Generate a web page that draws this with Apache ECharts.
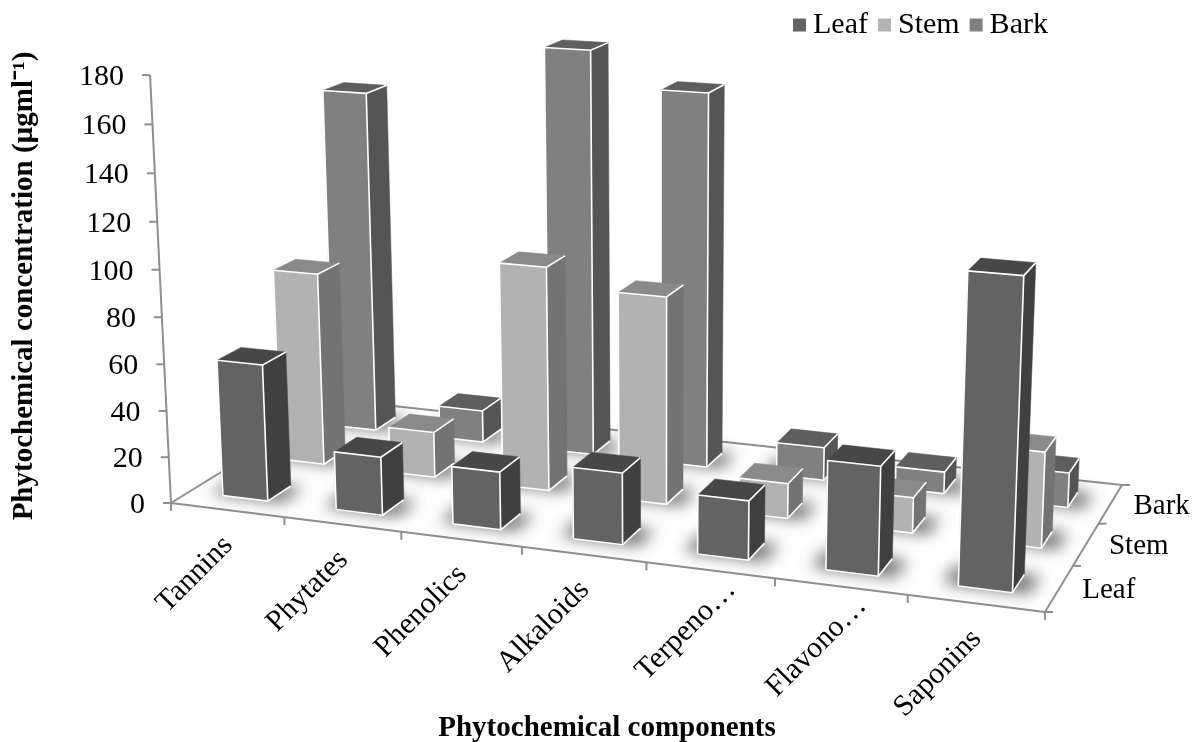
<!DOCTYPE html>
<html><head><meta charset="utf-8">
<style>html,body{margin:0;padding:0;background:#fff}#c{width:1193px;height:742px}</style>
<script src="https://cdn.jsdelivr.net/npm/echarts@6/dist/echarts.min.js"></script>
</head><body><div id="c"></div>
<script>
const categories = ['Tannins','Phytates','Phenolics','Alkaloids','Terpeno…','Flavono…','Saponins'];
const depthLabels = ['Leaf','Stem','Bark'];
const valueTicks = [0,20,40,60,80,100,120,140,160,180];
const leafValues = [59,25,24.5,30,24.5,44.5,124];
const stemValues = [85,20,97,89,15,15,40];
const barkValues = [154,14.5,179,164,14.5,9.5,15];

const FONT = '"Liberation Serif","Times New Roman",serif';
const YMAX = 180, NX = categories.length, NZ = depthLabels.length;

// Projective camera of the 3-D plot: category, depth and value to picture units
function project(X, Z, Y, api) {
  const u = X / NX, v = Z / NZ, t = Y / YMAX;
  const w = 1 - 0.10523 * u + 0.12513 * v - 0.04105 * t;
  const x = 764.0 * u + 209.3 * v + 171 - 27.1 * t;
  const y = 44.6 * u - 52.95 * v + 503 - 431 * t;
  return api.coord([x / w, y / w]);
}
const LO = 0.3, HI = 0.7;
const LINE = '#8f8f8f', EDGE = '#ffffff';
const palettes = [
  { front:'#636363', side:'#404040', top:'#474747' },
  { front:'#b2b2b2', side:'#737373', top:'#8a8a8a' },
  { front:'#808080', side:'#555555', top:'#5e5e5e' }
];
function poly(points, fill) { return { type:'polygon', shape:{points}, style:{fill, stroke:fill, lineWidth:0.5} }; }
function edge(points) { return { type:'polyline', shape:{points}, style:{fill:null, stroke:EDGE, lineWidth:1.6, lineJoin:'round'} }; }

function barRenderer(row) {
  return function (params, api) {
    const i = api.value(0), val = api.value(1);
    const x0 = i + LO, x1 = i + HI, z0 = row + LO, z1 = row + HI;
    const a = project(x0,z0,0,api), b = project(x1,z0,0,api), c = project(x1,z1,0,api);
    const d = project(x0,z0,val,api), e = project(x1,z0,val,api), f = project(x1,z1,val,api), g = project(x0,z1,val,api);
    const p = palettes[row];
    return { type:'group', children:[
      poly([b,c,f,e], p.side),
      poly([d,e,f,g], p.top),
      poly([a,b,e,d], p.front),
      edge([a,b,e,d,a]),
      edge([e,f]),
      edge([b,c])
    ]};
  };
}
// Soft floor shadow: only the canvas shadow of an off-screen footprint lands on the picture
const OFF = 4000;
function shadowRenderer(params, api) {
  const i = api.value(0), row = api.value(1);
  const m = 0.12;
  const pts = [
    project(i+LO-m,row+LO+0.02,0,api), project(i+HI+m,row+LO+0.02,0,api),
    project(i+HI+m,row+HI,0,api), project(i+LO-m,row+HI,0,api)
  ].map(p => [p[0]-OFF, p[1]]);
  return { type:'polygon', shape:{points:pts},
    style:{fill:'#000', shadowBlur:16, shadowColor:'rgba(0,0,0,0.58)', shadowOffsetX:OFF} };
}
function frameRenderer(params, api) {
  const kids = [];
  const seg = (p, q) => kids.push({ type:'line', shape:{x1:p[0],y1:p[1],x2:q[0],y2:q[1]}, style:{stroke:LINE, lineWidth:2} });
  const label = (text, p, opt) => kids.push({ type:'text', x:p[0], y:p[1], rotation:(opt.rot||0),
    style:{ text, font:(opt.font||'30px '+FONT), fill:'#000', align:opt.align||'left', verticalAlign:'middle' } });
  // floor outline
  seg(project(0,0,0,api), project(NX,0,0,api));
  seg(project(NX,0,0,api), project(NX,NZ,0,api));
  seg(project(NX,NZ,0,api), project(0,NZ,0,api));
  seg(project(0,NZ,0,api), project(0,0,0,api));
  // value axis
  seg(project(0,0,0,api), project(0,0,YMAX,api));
  valueTicks.forEach(v => {
    const p = project(0,0,v,api);
    seg(p, [p[0]-8,p[1]]);
    label(String(v), [p[0]-26,p[1]+2], {align:'right'});
  });
  // category axis
  for (let i = 0; i <= NX; i++) { const p = project(i,0,0,api); seg(p, [p[0],p[1]+8]); }
  categories.forEach((c,i) => {
    const p = project(i+0.5,0,0,api);
    const cut = c.endsWith('…');
    label(c, cut ? [p[0]+21,p[1]+15] : [p[0]+1,p[1]+31], {align:'right', rot:Math.PI/4});
  });
  // depth axis
  for (let j = 0; j <= NZ; j++) { const p = project(NX,j,0,api); seg(p, [p[0]+8,p[1]]); }
  depthLabels.forEach((c,j) => {
    const p = project(NX,j+0.5,0,api);
    label(c, [p[0]+23,p[1]+2], {font:'29px '+FONT});
  });
  // axis titles
  label('Phytochemical concentration (µgml⁻¹)', [25,286], {align:'center', rot:Math.PI/2, font:'bold 29px '+FONT});
  label('Phytochemical components', [607,729], {align:'center', font:'bold 29px '+FONT});
  return { type:'group', children:kids };
}
const toItems = arr => arr.map((v,i)=>[i,v]);
const shadowItems = [leafValues,stemValues,barkValues].flatMap((arr,row)=>arr.map((v,i)=>[i,row]));
const baseSeries = { type:'custom', coordinateSystem:'cartesian2d', clip:false, silent:true, animation:false };

const chart = echarts.init(document.getElementById('c'), null, {renderer:'canvas'});
chart.setOption({
  animation:false,
  backgroundColor:'#ffffff',
  grid:{left:0,right:0,top:0,bottom:0},
  xAxis:{type:'value',min:0,max:1193,show:false},
  yAxis:{type:'value',min:0,max:742,inverse:true,show:false},
  legend:{ data:['Leaf','Stem','Bark'], left:788, top:5, icon:'rect', itemWidth:13, itemHeight:13, itemGap:10,
    textStyle:{fontFamily:FONT,fontSize:30,color:'#000',padding:[0,0,0,2]}, selectedMode:false },
  series:[
    Object.assign({},baseSeries,{name:'frame',data:[[0,0]],renderItem:frameRenderer,z:1}),
    Object.assign({},baseSeries,{name:'shadow',data:shadowItems,renderItem:shadowRenderer,z:2}),
    Object.assign({},baseSeries,{name:'Bark',data:toItems(barkValues),renderItem:barRenderer(2),itemStyle:{color:palettes[2].front},z:3}),
    Object.assign({},baseSeries,{name:'Stem',data:toItems(stemValues),renderItem:barRenderer(1),itemStyle:{color:palettes[1].front},z:4}),
    Object.assign({},baseSeries,{name:'Leaf',data:toItems(leafValues),renderItem:barRenderer(0),itemStyle:{color:palettes[0].front},z:5})
  ]
});
</script></body></html>
